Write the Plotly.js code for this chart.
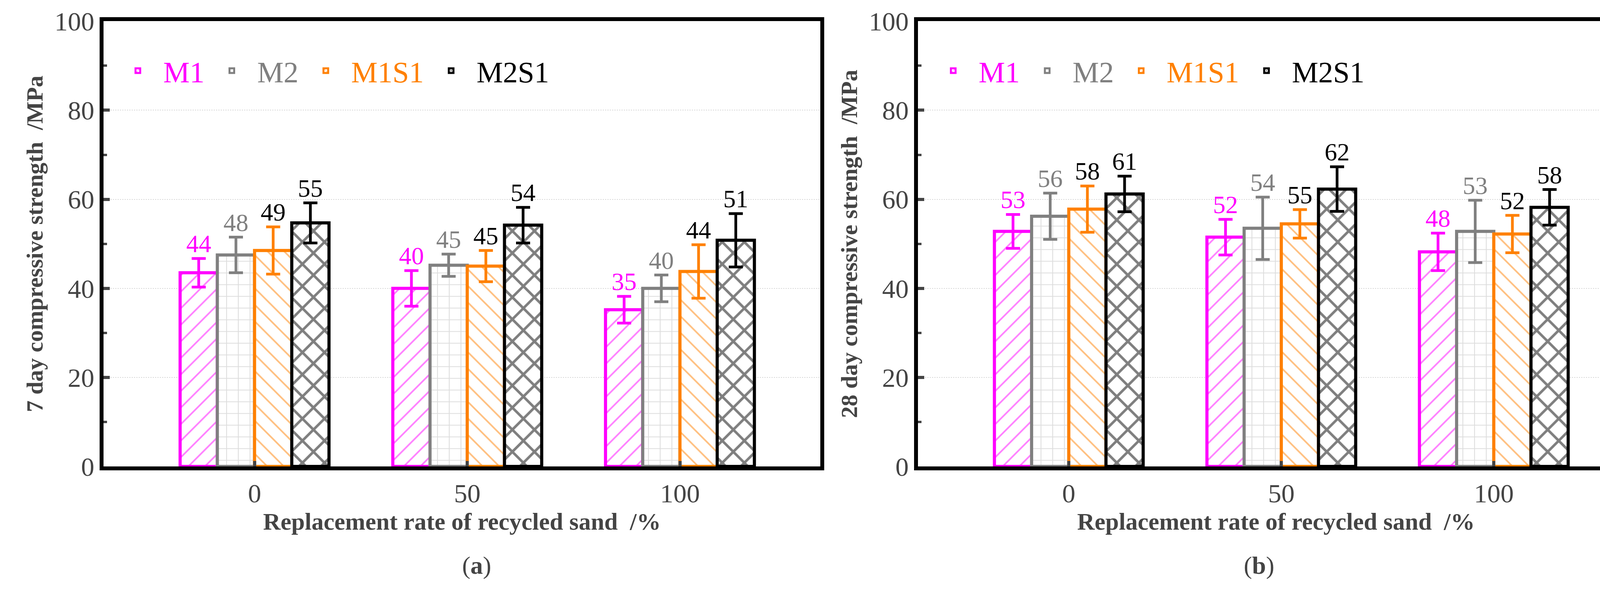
<!DOCTYPE html>
<html>
<head>
<meta charset="utf-8">
<script src="https://cdn.plot.ly/plotly-3.0.1.min.js"></script>
<style>body{margin:0;background:#fff}</style>
</head>
<body>
<div id="plot" style="width:4234px;height:1509px"></div>
<script>
// replacement rate categories
const rates = ['0', '50', '100'];
const series = ['M1', 'M2', 'M1S1', 'M2S1'];

// 7 day strength (a)
const m1_7 = [43.5, 40.0, 35.2];
const m2_7 = [47.5, 45.2, 40.0];
const m1s1_7 = [48.5, 45.0, 43.8];
const m2s1_7 = [54.7, 54.2, 50.8];
const m1_7err = [3.2, 4.0, 3.0];
const m2_7err = [4.0, 2.5, 3.0];
const m1s1_7err = [5.3, 3.5, 6.0];
const m2s1_7err = [4.5, 4.0, 6.0];
const m1_7lab = ['44', '40', '35'];
const m2_7lab = ['48', '45', '40'];
const m1s1_7lab = ['49', '45', '44'];
const m2s1_7lab = ['55', '54', '51'];

// 28 day strength (b)
const m1_28 = [52.8, 51.5, 48.2];
const m2_28 = [56.2, 53.5, 52.8];
const m1s1_28 = [57.8, 54.5, 52.2];
const m2s1_28 = [61.2, 62.3, 58.2];
const m1_28err = [3.8, 4.0, 4.2];
const m2_28err = [5.2, 7.0, 7.0];
const m1s1_28err = [5.2, 3.2, 4.2];
const m2s1_28err = [4.0, 5.0, 4.0];
const m1_28lab = ['53', '52', '48'];
const m2_28lab = ['56', '54', '53'];
const m1s1_28lab = ['58', '55', '52'];
const m2s1_28lab = ['61', '62', '58'];

const colors = ['#ff00ff', '#808080', '#ff8000', '#000000'];
const labColors = ['#ff00ff', '#808080', '#000000', '#000000'];
const shapes = ['/', '+', '\\', 'x'];
const font = 'Liberation Serif';
const barW = 0.175;

const data = [];
function addPanel(vals, errs, labs, xa, ya, leg) {
  vals.forEach((v, k) => {
    const xs = rates.map((r, i) => i + (k - 1.5) * barW);
    data.push({
      type: 'bar', x: xs, y: v, width: barW, xaxis: xa, yaxis: ya,
      name: '<span style="color:' + colors[k] + '">' + series[k] + '</span>',
      legend: leg, showlegend: true,
      marker: {color: '#fff', line: {color: colors[k], width: 8},
        pattern: {shape: shapes[k], fgcolor: k == 1 ? '#bbbbbb' : colors[k], bgcolor: '#fff', size: k == 3 ? 40 : 30, solidity: k == 3 ? 0.3 : 0.14, fillmode: 'overlay'}},
      error_y: {type: 'data', array: errs[k], color: colors[k], thickness: 7, width: 18}
    });
    data.push({
      type: 'scatter', mode: 'text', x: xs, y: v.map((y, i) => y + errs[k][i]),
      text: labs[k], textposition: 'top center', xaxis: xa, yaxis: ya, showlegend: false,
      textfont: {family: font, size: 64, color: labColors[k]}, cliponaxis: false, hoverinfo: 'skip'
    });
  });
}
addPanel([m1_7, m2_7, m1s1_7, m2s1_7], [m1_7err, m2_7err, m1s1_7err, m2s1_7err],
  [m1_7lab, m2_7lab, m1s1_7lab, m2s1_7lab], 'x', 'y', 'legend');
addPanel([m1_28, m2_28, m1s1_28, m2s1_28], [m1_28err, m2_28err, m1s1_28err, m2s1_28err],
  [m1_28lab, m2_28lab, m1s1_28lab, m2s1_28lab], 'x2', 'y2', 'legend2');

function xax(dom, anchor) {
  return {domain: dom, anchor: anchor, range: [-0.71, 2.66], tickvals: [0, 1, 2], ticktext: rates,
    ticks: 'inside', ticklen: 14, tickwidth: 8, showline: true, mirror: true, linewidth: 10, linecolor: '#000',
    showgrid: false, zeroline: false, tickfont: {family: font, size: 68},
    title: {text: '<b>Replacement rate of recycled sand  /%</b>', font: {family: font, size: 62}, standoff: 14}};
}
function yax(anchor, txt) {
  return {domain: [0.208, 0.964], anchor: anchor, range: [0, 100], dtick: 20,
    ticks: 'inside', ticklen: 16, tickwidth: 8, showline: true, mirror: true, linewidth: 10, linecolor: '#000',
    minor: {dtick: 10, ticks: 'inside', ticklen: 9, tickwidth: 6, showgrid: false},
    showgrid: true, gridcolor: '#d8d8d8', griddash: 'dot', gridwidth: 2, zeroline: false,
    tickfont: {family: font, size: 68},
    title: {text: '<b>' + txt + '</b>', font: {family: font, size: 60}, standoff: 14}};
}
const legStyle = {orientation: 'h', font: {family: font, size: 76}, bgcolor: 'rgba(0,0,0,0)', itemwidth: 120, tracegroupgap: 0, xanchor: 'left', yanchor: 'middle'};

const layout = {
  width: 4234, height: 1509, autosize: false, showlegend: true,
  margin: {l: 0, r: 0, t: 0, b: 0}, paper_bgcolor: '#fff', plot_bgcolor: '#fff',
  bargap: 0,
  xaxis: xax([0.0626, 0.496], 'y'),
  yaxis: yax('x', '7 day compressive strength  /MPa'),
  xaxis2: xax([0.555, 0.988], 'y2'),
  yaxis2: yax('x2', '28 day compressive strength  /MPa'),
  legend: Object.assign({x: 0.068, y: 0.88}, legStyle),
  legend2: Object.assign({x: 0.561, y: 0.88}, legStyle),
  annotations: [
    {text: '(<b>a</b>)', x: 0.279, y: 0.015, xref: 'paper', yref: 'paper', showarrow: false, yanchor: 'bottom', font: {family: font, size: 64}},
    {text: '(<b>b</b>)', x: 0.771, y: 0.015, xref: 'paper', yref: 'paper', showarrow: false, yanchor: 'bottom', font: {family: font, size: 64}}
  ]
};
Plotly.newPlot('plot', data, layout, {staticPlot: true});
</script>
</body>
</html>
